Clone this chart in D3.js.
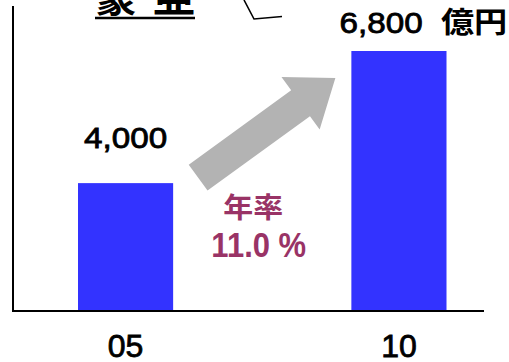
<!DOCTYPE html>
<html>
<head>
<meta charset="utf-8">
<script src="https://cdn.jsdelivr.net/npm/d3@7/dist/d3.min.js"></script>
<style>
  html, body { margin: 0; padding: 0; background: #fff; }
  svg { display: block; }
</style>
</head>
<body>
<svg id="chart" width="509" height="362"></svg>
<script>
// Market size by year (億円)
const years = ["05", "10"];
const values = [4000, 6800];
const valueLabels = ["4,000", "6,800"];
const unitLabel = "億円";
const growthLabel = ["年率", "11.0 %"];
const titleText = "豪亜";

const W = 509, H = 362;
const svg = d3.select("#chart");

const barColor = "#3333ff";
const accent = "#993366";
const latin = "'Liberation Sans', Arial, sans-serif";
const cjk = "'Noto Sans CJK JP', 'Noto Sans CJK SC', sans-serif";

const x = d3.scaleBand().domain(years).range([78, 446.5]).paddingInner(0.652).paddingOuter(0);
const y = d3.scaleLinear().domain([1290, 6800]).range([311, 51]);
const bw = x.bandwidth();
const cx = d => x(d) + bw / 2;

// heading (runs off the top edge) with underline
svg.append("text")
  .attr("x", 95).attr("y", 12)
  .attr("font-family", cjk).attr("font-weight", 700).attr("font-size", 42)
  .attr("letter-spacing", 16)
  .attr("fill", "#000")
  .text(titleText);
svg.append("line").attr("x1", 95).attr("x2", 195).attr("y1", 18).attr("y2", 18)
  .attr("stroke", "#000").attr("stroke-width", 2.5);

// small card outline at the top
svg.append("polyline")
  .attr("points", "244,0 254,19 282,16.5")
  .attr("fill", "#fff").attr("stroke", "#000").attr("stroke-width", 1.6);

// bars
svg.selectAll("rect.bar").data(years).join("rect")
  .attr("class", "bar")
  .attr("x", d => x(d))
  .attr("width", bw)
  .attr("y", (d, i) => y(values[i]))
  .attr("height", (d, i) => y.range()[0] - y(values[i]))
  .attr("fill", barColor);

// axes lines
svg.append("line").attr("x1", 13).attr("x2", 13).attr("y1", 6).attr("y2", 312)
  .attr("stroke", "#000").attr("stroke-width", 2);
svg.append("line").attr("x1", 12).attr("x2", 484).attr("y1", y.range()[0]).attr("y2", y.range()[0])
  .attr("stroke", "#000").attr("stroke-width", 2);

// category labels
const xAxis = svg.append("g")
  .attr("transform", `translate(0,${y.range()[0]})`)
  .call(d3.axisBottom(x).tickSize(0).tickPadding(0));
xAxis.select(".domain").remove();
xAxis.selectAll("text")
  .attr("y", 46).attr("dy", 0)
  .attr("font-family", latin).attr("font-size", 32).attr("fill", "#000")
  .attr("stroke", "#000").attr("stroke-width", 0.8);

// value label on the first bar
svg.append("text")
  .attr("transform", `translate(${cx(years[0])},${y(values[0]) - 35}) scale(1.145,1)`)
  .attr("text-anchor", "middle")
  .attr("font-family", latin).attr("font-size", 29).attr("fill", "#000")
  .attr("stroke", "#000").attr("stroke-width", 0.8)
  .text(valueLabels[0]);

// value label with unit on the second bar
const t2 = svg.append("text")
  .attr("transform", `translate(${cx(years[1]) + 24.5},${y(values[1]) - 18}) scale(1.145,1)`)
  .attr("text-anchor", "middle")
  .attr("font-size", 29).attr("fill", "#000");
t2.append("tspan").attr("font-family", latin)
  .attr("stroke", "#000").attr("stroke-width", 0.8)
  .text(valueLabels[1]);
t2.append("tspan").attr("font-family", cjk).attr("font-weight", 700).attr("dx", 16).text(unitLabel);

// growth arrow from the first bar toward the second
const tail = [x(years[0]) + bw + 25, y(values[0]) - 5.5];
const tip = [x(years[1]) - 16, y(values[1]) + 27];
const dx = tip[0] - tail[0], dy = tip[1] - tail[1];
const len = Math.hypot(dx, dy);
const ux = dx / len, uy = dy / len, nx = -uy, ny = ux;
const shaftW = 32, headW = 65, headL = 43;
const P = (along, side) => [tail[0] + ux * along + nx * side, tail[1] + uy * along + ny * side];
const arrowPts = [
  P(0, -shaftW / 2), P(len - headL, -shaftW / 2), P(len - headL, -headW / 2),
  P(len, 0),
  P(len - headL, headW / 2), P(len - headL, shaftW / 2), P(0, shaftW / 2)
];
svg.append("polygon")
  .attr("points", arrowPts.map(p => p.join(",")).join(" "))
  .attr("fill", "#b3b3b3");

// annual growth annotation
const gapMid = (x(years[0]) + bw + x(years[1])) / 2;
svg.append("text")
  .attr("transform", `translate(${gapMid - 9},218) scale(1.07,1)`)
  .attr("text-anchor", "middle")
  .attr("font-family", cjk).attr("font-weight", 700).attr("font-size", 28)
  .attr("fill", accent)
  .text(growthLabel[0]);
svg.append("text")
  .attr("transform", `translate(${gapMid - 3.5},257) scale(1,1.12)`)
  .attr("text-anchor", "middle")
  .attr("font-family", latin).attr("font-weight", 700).attr("font-size", 31)
  .attr("fill", accent)
  .text(growthLabel[1]);
</script>
</body>
</html>
